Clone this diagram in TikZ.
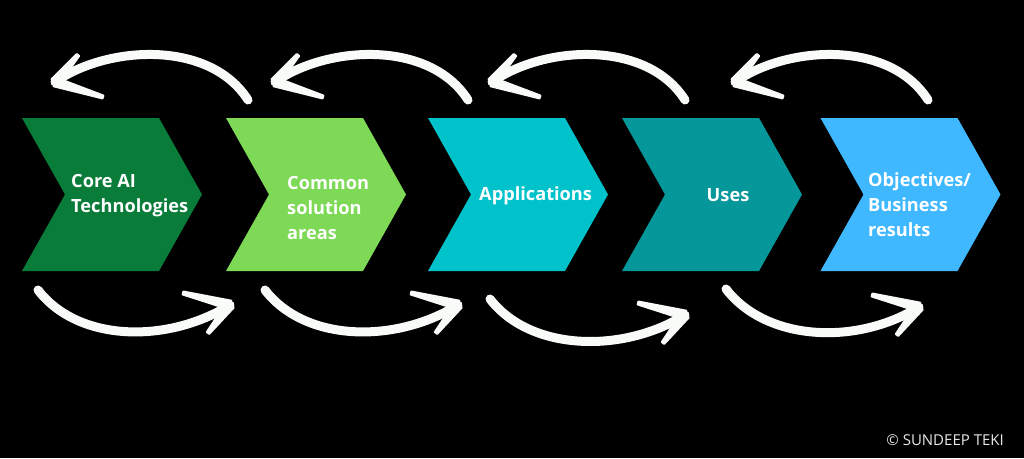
\documentclass[tikz,border=0pt]{standalone}
\usepackage{fontspec}
\setmainfont{Open Sans}
\usetikzlibrary{calc}
\definecolor{cOne}{HTML}{0A7C3A}
\definecolor{cTwo}{HTML}{7ED957}
\definecolor{cThree}{HTML}{00C2CB}
\definecolor{cFour}{HTML}{06979A}
\definecolor{cFive}{HTML}{40B8FF}
\definecolor{arrowwhite}{HTML}{F8FBF8}
\definecolor{copyc}{HTML}{E6EAE8}
\newcommand\mybarb[2]{%
  \filldraw[barbpaint] ($(#1)!4.5pt!90:(#2)$) -- ($(#2)!1.5pt!-90:(#1)$) -- ($(#2)!1.5pt!90:(#1)$) -- ($(#1)!4.5pt!-90:(#2)$) -- cycle;}
\begin{document}
\begin{tikzpicture}[x=1pt,y=-1pt,
  chev/.style={minimum width=180, minimum height=153, inner sep=0, outer sep=0},
  lbl/.style={font=\fontsize{18.2}{25}\selectfont\bfseries, text=white, align=left, inner sep=0},
  shaft/.style={draw=arrowwhite, line width=9pt, line cap=round},
  barbpaint/.style={fill=arrowwhite, draw=arrowwhite, line width=2pt, line join=round}]
\useasboundingbox (0,0) rectangle (1024,458);
\fill[black] (0,0) rectangle (1024,458);
% chevrons
\foreach \n/\cx/\col in {c1/112/cOne, c2/316/cTwo, c3/518/cThree, c4/712/cFour, c5/910.5/cFive}{
  \node[chev] (\n) at (\cx,194.5) {};
  \fill[\col] (\n.north west) -- ([xshift=-43pt]\n.north east) -- (\n.east) -- ([xshift=-43pt]\n.south east) -- (\n.south west) -- ([xshift=43pt]\n.west) -- cycle;
}
% labels
\node[lbl, anchor=west] (t1) at (71,195.5) {Core AI\\Technologies};
\node[lbl, anchor=west] (t2) at (287,208) {Common\\solution\\areas};
\node[lbl, anchor=west] (t3) at (479,196) {Applications};
\node[lbl, anchor=center] (t4) at (728,195) {Uses};
\node[lbl, anchor=west] (t5) at (868,205) {Objectives/\\Business\\results};
% upper arrows (right to left)
\foreach \i/\tx in {1/55, 2/275, 3/492, 4/735}{
  \coordinate (ut\i) at (\tx,82);
  \coordinate (ue\i) at ($(ut\i)+(193,18)$);
  \coordinate (ua\i) at ($(ut\i)+(23,-27)$);
  \coordinate (ub\i) at ($(ut\i)+(48,15)$);
  \draw[shaft] (ue\i) .. controls +(-38,-60) and +(53,-37) .. (ut\i);
  \mybarb{ut\i}{ua\i}
  \mybarb{ut\i}{ub\i}
}
% lower arrows (left to right)
\foreach \i/\sx/\sy/\ex/\ey in {1/38/290/230/305, 2/265/290/458/305, 3/490/299/685/315, 4/726/289/919/307}{
  \coordinate (ls\i) at (\sx,\sy);
  \coordinate (lt\i) at (\ex,\ey);
  \coordinate (la\i) at ($(lt\i)+(-47,-12)$);
  \coordinate (lb\i) at ($(lt\i)+(-22,28)$);
  \draw[shaft] (ls\i) .. controls +(40,52) and +(-63,39) .. (lt\i);
  \mybarb{lt\i}{la\i}
  \mybarb{lt\i}{lb\i}
}
\node[font=\fontsize{15}{17}\selectfont, text=copyc, anchor=east, inner sep=0] (copy) at (1004,440) {© SUNDEEP TEKI};
\end{tikzpicture}
\end{document}
